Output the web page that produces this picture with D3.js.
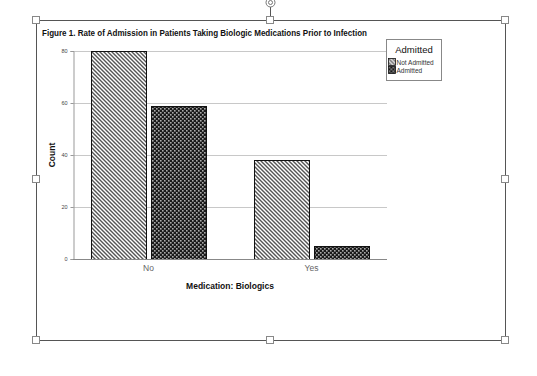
<!DOCTYPE html>
<html>
<head>
<meta charset="utf-8">
<script src="https://cdn.jsdelivr.net/npm/d3@7"></script>
<style>
  body { margin: 0; background: #fff; }
  svg { display: block; font-family: "Liberation Sans", Arial, sans-serif; }
</style>
</head>
<body>
<div id="chart"></div>
<script>

// data
var categories = [ 'No', 'Yes' ];
var groups = [ 'Not Admitted', 'Admitted' ];
var notAdmitted = [ 80, 38 ];
var admitted = [ 59, 5 ];
var yTicks = [ 0, 20, 40, 60, 80 ];

var width = 537,
    height = 376;

var svg = d3.select('#chart').append('svg')
    .attr('width', width)
    .attr('height', height);

var defs = svg.append('defs');

// diagonal stripes for "Not Admitted"
var diag = defs.append('pattern')
    .attr('id', 'diag')
    .attr('patternUnits', 'userSpaceOnUse')
    .attr('width', 4)
    .attr('height', 4);
diag.append('rect').attr('width', 4).attr('height', 4).attr('fill', '#fff');
diag.append('path')
    .attr('d', 'M-1,-1 L5,5 M-1,3 L1,5 M3,-1 L5,1')
    .attr('stroke', '#555')
    .attr('stroke-width', 1.4);

// dark crosshatch for "Admitted"
var cross = defs.append('pattern')
    .attr('id', 'cross')
    .attr('patternUnits', 'userSpaceOnUse')
    .attr('width', 4)
    .attr('height', 4);
cross.append('rect').attr('width', 4).attr('height', 4).attr('fill', '#1a1a1a');
cross.append('rect').attr('x', 0).attr('y', 0).attr('width', 1.6).attr('height', 1.6).attr('fill', '#aaa');
cross.append('rect').attr('x', 2).attr('y', 2).attr('width', 1.6).attr('height', 1.6).attr('fill', '#aaa');

var fills = [ 'url(#diag)', 'url(#cross)' ];

// selection frame
svg.append('rect')
    .attr('x', 36.5).attr('y', 20.5)
    .attr('width', 469).attr('height', 320)
    .attr('fill', 'none')
    .attr('stroke', '#555');

svg.append('line')
    .attr('x1', 270.5).attr('x2', 270.5)
    .attr('y1', 7).attr('y2', 20)
    .attr('stroke', '#555');
svg.append('circle')
    .attr('cx', 270.5).attr('cy', 2.5).attr('r', 4.5)
    .attr('fill', '#fff').attr('stroke', '#777');
svg.append('circle')
    .attr('cx', 270.5).attr('cy', 2.5).attr('r', 2)
    .attr('fill', 'none').attr('stroke', '#777');

var handles = [ [36, 20], [270, 20], [505, 20], [36, 179], [505, 179], [36, 340], [270, 340], [505, 340] ];
svg.selectAll('.handle')
    .data(handles)
    .enter().append('rect')
    .attr('class', 'handle')
    .attr('x', function (d) { return d[0] - 3.5; })
    .attr('y', function (d) { return d[1] - 3.5; })
    .attr('width', 7).attr('height', 7)
    .attr('fill', '#fff')
    .attr('stroke', '#888');

// title
svg.append('text')
    .attr('x', 42).attr('y', 36)
    .attr('font-size', 9)
    .attr('font-weight', 'bold')
    .attr('fill', '#111')
    .attr('textLength', 325)
    .attr('lengthAdjust', 'spacingAndGlyphs')
    .text('Figure 1. Rate of Admission in Patients Taking Biologic Medications Prior to Infection');

// scales
var plotLeft = 73, plotRight = 387;

var x0 = d3.scaleBand()
    .domain(categories)
    .range([ plotLeft, plotRight ])
    .paddingInner(0.294)
    .paddingOuter(0.11);

var x1 = d3.scaleBand()
    .domain(groups)
    .range([ 0, x0.bandwidth() ])
    .paddingInner(0.08);

var y = d3.scaleLinear()
    .domain([ 0, 80 ])
    .range([ 259, 51 ]);

// gridlines
svg.append('g')
    .selectAll('line')
    .data(yTicks.slice(1))
    .enter().append('line')
    .attr('x1', plotLeft).attr('x2', plotRight)
    .attr('y1', function (d) { return Math.round(y(d)) + 0.5; })
    .attr('y2', function (d) { return Math.round(y(d)) + 0.5; })
    .attr('stroke', '#c8c8c8');

// y axis
var yAxis = svg.append('g')
    .attr('transform', 'translate(' + (plotLeft + 0.5) + ',0)')
    .call(d3.axisLeft(y).tickValues(yTicks).tickSize(3).tickPadding(3));
yAxis.select('.domain').attr('stroke', '#999');
yAxis.selectAll('.tick line').attr('stroke', '#999');
yAxis.selectAll('text')
    .attr('font-size', 5.5)
    .attr('fill', '#444')
    .attr('font-family', '"Liberation Sans", Arial, sans-serif');

// bars
var series = [ notAdmitted, admitted ];

categories.forEach(function (c, ci) {
    groups.forEach(function (g, gi) {
        var v = series[gi][ci];
        svg.append('rect')
            .attr('x', Math.round(x0(c) + x1(g)) + 0.5)
            .attr('y', Math.round(y(v)) + 0.5)
            .attr('width', Math.round(x1.bandwidth()))
            .attr('height', Math.round(y(0) - y(v)))
            .attr('fill', fills[gi])
            .attr('stroke', '#111')
            .attr('stroke-width', 1);
    });
});

// baseline
svg.append('line')
    .attr('x1', plotLeft).attr('x2', plotRight)
    .attr('y1', 259.5).attr('y2', 259.5)
    .attr('stroke', '#888');

// category labels
svg.selectAll('.cat')
    .data(categories)
    .enter().append('text')
    .attr('class', 'cat')
    .attr('x', function (d) { return x0(d) + x0.bandwidth() / 2; })
    .attr('y', 271)
    .attr('text-anchor', 'middle')
    .attr('font-size', 8.5)
    .attr('fill', '#666')
    .text(function (d) { return d; });

// axis titles
svg.append('text')
    .attr('x', 230).attr('y', 289)
    .attr('text-anchor', 'middle')
    .attr('font-size', 8.5)
    .attr('font-weight', 'bold')
    .attr('fill', '#111')
    .text('Medication: Biologics');

svg.append('text')
    .attr('transform', 'translate(55,155) rotate(-90)')
    .attr('text-anchor', 'middle')
    .attr('font-size', 8.5)
    .attr('font-weight', 'bold')
    .attr('fill', '#111')
    .text('Count');

// legend
var legend = svg.append('g')
    .attr('transform', 'translate(386.5,39.5)');

legend.append('rect')
    .attr('width', 55).attr('height', 41)
    .attr('fill', '#fff')
    .attr('stroke', '#888');

legend.append('text')
    .attr('x', 27.5).attr('y', 13)
    .attr('text-anchor', 'middle')
    .attr('font-size', 9.5)
    .attr('fill', '#111')
    .text('Admitted');

var item = legend.selectAll('.item')
    .data(groups)
    .enter().append('g')
    .attr('class', 'item')
    .attr('transform', function (d, i) { return 'translate(2,' + (19 + i * 8) + ')'; });

item.append('rect')
    .attr('width', 7).attr('height', 7)
    .attr('fill', function (d, i) { return fills[i]; })
    .attr('stroke', '#111')
    .attr('stroke-width', 0.8);

item.append('text')
    .attr('x', 8).attr('y', 6)
    .attr('font-size', 6.5)
    .attr('fill', '#333')
    .text(function (d) { return d; });

</script>
</body>
</html>
